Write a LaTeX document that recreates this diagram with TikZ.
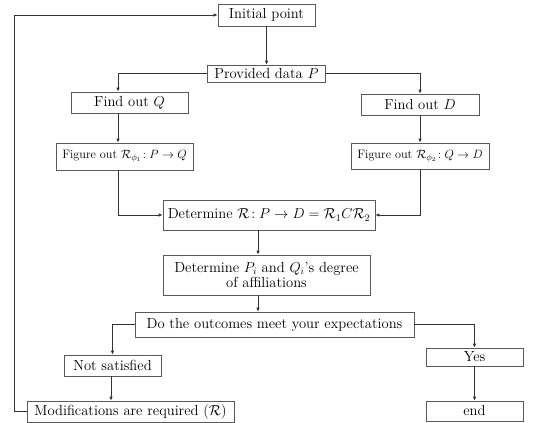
\documentclass[tikz,border=0pt]{standalone}
\usetikzlibrary{arrows.meta,calc}
\begin{document}
\begin{tikzpicture}[x=1pt,y=-1pt,
  box/.style={draw=black!65, line width=0.6pt, inner sep=0pt, align=center, font=\fontsize{14.6}{15.5}\selectfont},
  sbox/.style={box, font=\fontsize{12.2}{14}\selectfont},
  arr/.style={draw=black!80, line width=0.9pt, -{Latex[length=4pt,width=3.5pt]}},
  ln/.style={draw=black!80, line width=0.9pt}]
\useasboundingbox (0,0) rectangle (539,423);
\node[box, minimum width=97pt, minimum height=22pt] (init) at (266.5,15) {Initial point};
\node[box, minimum width=118pt, minimum height=17pt] (prov) at (266.5,73.5) {Provided data $P$};
\node[box, minimum width=117pt, minimum height=21pt] (findQ) at (129.5,102.5) {Find out $Q$};
\node[box, minimum width=118pt, minimum height=21pt] (findD) at (420,104.5) {Find out $D$};
\node[sbox, minimum width=137pt, minimum height=27pt] (figR1) at (124.5,156.5) {Figure out $\mathcal{R}_{\phi_1}\!: P\rightarrow Q$};
\node[sbox, minimum width=138pt, minimum height=26pt] (figR2) at (420,156) {Figure out $\mathcal{R}_{\phi_2}\!: Q\rightarrow D$};
\node[box, minimum width=212pt, minimum height=30pt] (detR) at (269,215) {Determine $\mathcal{R}\!: P\rightarrow D=\mathcal{R}_1 C\mathcal{R}_2$};
\node[box, minimum width=207pt, minimum height=40pt] (detP) at (266.5,275) {Determine $P_i$ and $Q_i$'s degree\\of affiliations};
\node[box, minimum width=279pt, minimum height=25pt] (doo) at (274.5,324.5) {Do the outcomes meet your expectations};
\node[box, minimum width=97pt, minimum height=21pt] (notS) at (112.5,365.5) {Not satisfied};
\node[box, minimum width=97pt, minimum height=18pt] (yes) at (474.5,357) {Yes};
\node[box, minimum width=207pt, minimum height=21pt] (mods) at (130.5,411.5) {Modifications are required $(\mathcal{R})$};
\node[box, minimum width=97pt, minimum height=20pt] (endn) at (474.5,411) {end};
\coordinate (lp) at (14,15);
% connectors
\draw[arr] (mods.west) -| (lp) -- (init.west);
\draw[arr] (init) -- (prov);
\draw[arr] (prov.west) -| ([xshift=-11.5pt]findQ.north);
\draw[arr] (prov.east) -| (findD.north);
\draw[arr] ([xshift=-11.5pt]findQ.south) -- ([xshift=-6.5pt]figR1.north);
\draw[arr] (findD) -- (figR2);
\draw[arr] ([xshift=-6.5pt]figR1.south) |- (detR.west);
\draw[arr] (figR2.south) |- (detR.east);
\draw[arr] ([xshift=-11pt]detR.south) -- ([xshift=-8.5pt]detP.north);
\draw[arr] ([xshift=-8.5pt]detP.south) -- ([xshift=-16.5pt]doo.north);
\draw[arr] (doo.west) -| (notS.north);
\draw[arr] (doo.east) -| (yes.north);
\draw[arr] ([xshift=-1.5pt]notS.south) -- ([xshift=-19.5pt]mods.north);
\draw[arr] (yes) -- (endn);
\end{tikzpicture}
\end{document}
